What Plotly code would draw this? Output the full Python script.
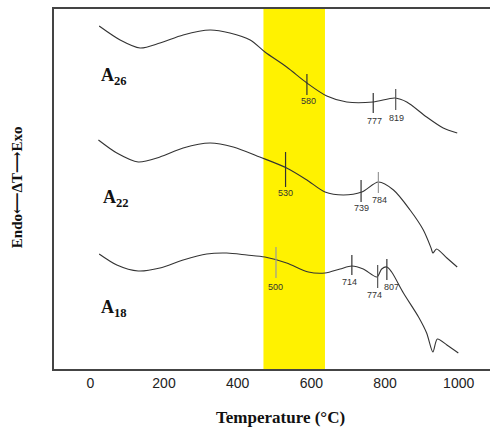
import plotly.graph_objects as go

# Temperature (°C) and DTA signal (arbitrary units)
t_a26 = [24, 81, 135, 189, 252, 325, 379, 434, 474, 533, 588, 642, 696, 768, 827, 859, 913, 958, 996]
s_a26 = [343, 329, 321, 326, 334, 339, 336, 329, 317, 302, 286, 273, 267, 267, 271, 267, 252, 241, 236]

t_a22 = [22, 72, 130, 189, 252, 325, 388, 460, 533, 588, 637, 687, 737, 782, 823, 868, 904, 925, 930, 940, 968, 996]
s_a22 = [229, 216, 207, 212, 221, 226, 222, 212, 201, 189, 177, 174, 177, 187, 179, 159, 139, 121, 116, 120, 111, 102]

t_a18 = [24, 72, 130, 189, 252, 316, 370, 425, 474, 533, 592, 637, 678, 710, 741, 778, 791, 805, 818, 850, 891, 913, 930, 942, 968, 999]
s_a18 = [115, 104, 98, 101, 109, 115, 116, 114, 112, 106, 97, 96, 100, 103, 100, 92, 100, 102, 97, 76, 52, 36, 17, 30, 24, 16]

# Peak markers: label text, marker position as drawn, label position, marker bottom/top, label height
pk_text = ["580", "777", "819", "530", "739", "784", "500", "714", "774", "807"]
pk_pos = [588, 768, 829, 530, 735, 782, 504, 710, 780, 805]
pk_label_x = [592, 771, 832, 530, 735, 784, 504, 703, 771, 818]
pk_low = [274, 256, 259, 182, 167, 176, 91, 94, 81, 89]
pk_high = [295, 276, 280, 217, 189, 197, 122, 114, 104, 110]
pk_label_y = [268, 248, 251, 176, 161, 169, 82, 87, 74, 82]
pk_color = ["#333", "#333", "#555", "#333", "#333", "#999", "#999", "#333", "#555", "#333"]

sample_names = ["A<sub>26</sub>", "A<sub>22</sub>", "A<sub>18</sub>"]
sample_label_x = [65, 69, 65]
sample_label_y = [293, 171, 61]

band = [470, 637]
x_ticks = [0, 200, 400, 600, 800, 1000]

fig = go.Figure()

fig.add_shape(type="rect", xref="x", yref="paper", x0=band[0], x1=band[1], y0=0, y1=1,
              fillcolor="#FFF200", line_width=0, layer="below")

for t, s in [(t_a26, s_a26), (t_a22, s_a22), (t_a18, s_a18)]:
    fig.add_trace(go.Scatter(x=t, y=s, mode="lines",
                             line=dict(color="#333333", width=1.1, shape="spline", smoothing=0.8),
                             showlegend=False, hoverinfo="skip"))

for txt, T, lx, lo, hi, ly, c in zip(pk_text, pk_pos, pk_label_x, pk_low, pk_high, pk_label_y, pk_color):
    fig.add_trace(go.Scatter(x=[T, T], y=[lo, hi], mode="lines",
                             line=dict(color=c, width=1.2), showlegend=False, hoverinfo="skip"))
    fig.add_annotation(x=lx, y=ly, text=txt, showarrow=False,
                       font=dict(family="Liberation Sans, Arial", size=9, color="#333"))

for name, sx, sy in zip(sample_names, sample_label_x, sample_label_y):
    fig.add_annotation(x=sx, y=sy, text="<b>" + name + "</b>", showarrow=False,
                       font=dict(family="Liberation Serif, Times New Roman", size=18, color="#111"))

fig.add_annotation(xref="paper", yref="paper", x=0.52, y=-0.135,
                   text="<b>Temperature (°C)</b>", showarrow=False, yanchor="middle",
                   font=dict(family="Liberation Serif, Times New Roman", size=17, color="#111"))
fig.add_annotation(xref="paper", yref="paper", x=-0.085, y=0.505, textangle=-90,
                   text="<b>Endo⟵ΔT⟶Exo</b>", showarrow=False, xanchor="center",
                   font=dict(family="Liberation Serif, DejaVu Serif", size=15, color="#111"))

fig.update_layout(
    width=490, height=427,
    margin=dict(l=54, r=0, t=9, b=58),
    paper_bgcolor="white", plot_bgcolor="white",
    xaxis=dict(range=[-98.6, 1085], tickvals=x_ticks, showgrid=False, zeroline=False,
               showline=True, mirror=True, linecolor="#444", linewidth=1.5, ticks="",
               tickfont=dict(family="Liberation Sans, Arial", size=14, color="#222")),
    yaxis=dict(range=[0, 360], showticklabels=False, showgrid=False, zeroline=False,
               showline=True, linecolor="#444", linewidth=1.5, ticks=""),
)

fig.write_html("out.html")
